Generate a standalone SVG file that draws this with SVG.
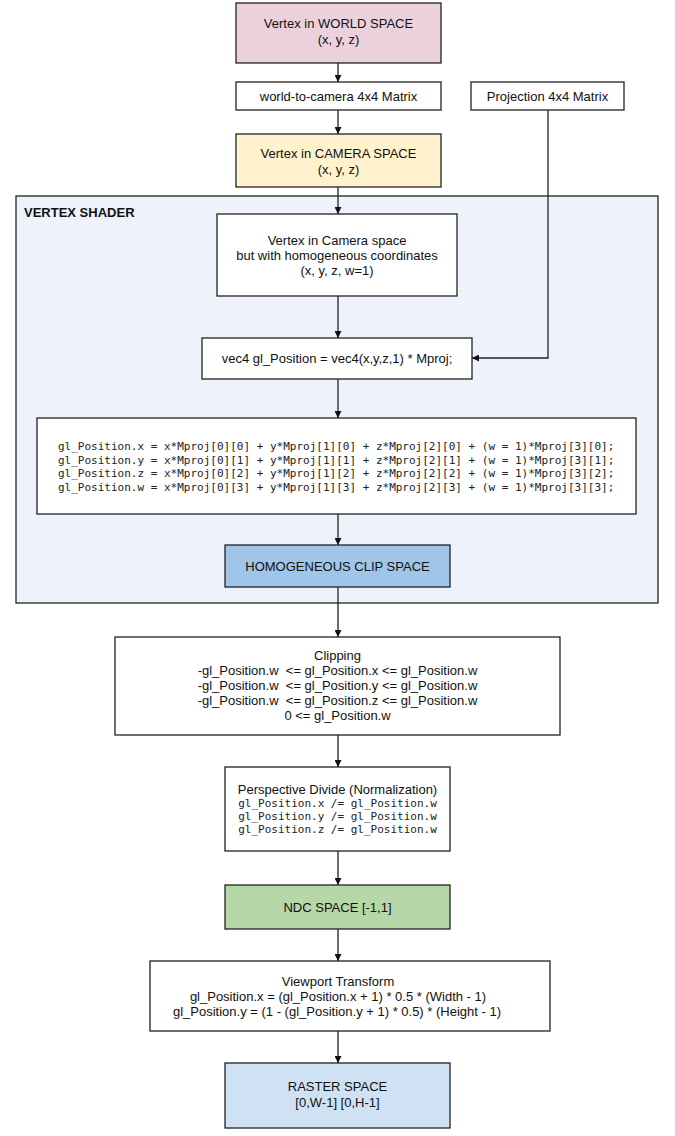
<svg xmlns="http://www.w3.org/2000/svg" width="675" height="1136" viewBox="0 0 675 1136">
  <defs>
    <marker id="arrow" viewBox="0 0 10 10" refX="10" refY="5" markerWidth="7" markerHeight="7" markerUnits="userSpaceOnUse" orient="auto">
      <path d="M0,0 L10,5 L0,10 z" fill="#111"/>
    </marker>
    <style>
      .box { stroke: #222; stroke-width: 1.3; fill: #ffffff; }
      .t { font-family: "Liberation Sans", Arial, sans-serif; font-size: 13px; fill: #111; text-anchor: middle; white-space: pre; }
      .m { font-family: "DejaVu Sans Mono", monospace; font-size: 11px; fill: #222; }
      .edge { stroke: #222; stroke-width: 1.3; fill: none; marker-end: url(#arrow); }
    </style>
  </defs>
  <rect width="675" height="1136" fill="#ffffff"/>

  <!-- shader stage container -->
  <g id="vertex-shader">
    <rect x="16" y="196" width="642" height="407" fill="#edf2fb" stroke="#222" stroke-width="1.3"/>
    <text x="24" y="217" font-family="Liberation Sans, Arial, sans-serif" font-size="13" font-weight="bold" fill="#111">VERTEX SHADER</text>
  </g>

  <g id="world-space">
    <rect class="box" x="236" y="3" width="205" height="60" style="fill:#ead1dc"/>
    <text class="t" x="338.5" y="28">Vertex in WORLD SPACE</text>
    <text class="t" x="338.5" y="44">(x, y, z)</text>
  </g>

  <g id="world-to-camera">
    <rect class="box" x="236" y="82" width="205" height="28"/>
    <text class="t" x="338.5" y="101">world-to-camera 4x4 Matrix</text>
  </g>

  <g id="projection-matrix">
    <rect class="box" x="471" y="82" width="153" height="28"/>
    <text class="t" x="547.5" y="101">Projection 4x4 Matrix</text>
  </g>

  <g id="camera-space">
    <rect class="box" x="236" y="134" width="205" height="53" style="fill:#fff2cc"/>
    <text class="t" x="338.5" y="158">Vertex in CAMERA SPACE</text>
    <text class="t" x="338.5" y="174">(x, y, z)</text>
  </g>

  <g id="homogeneous-coords">
    <rect class="box" x="217" y="214" width="240" height="82"/>
    <text class="t" x="337" y="245">Vertex in Camera space</text>
    <text class="t" x="337" y="260">but with homogeneous coordinates</text>
    <text class="t" x="337" y="275">(x, y, z, w=1)</text>
  </g>

  <g id="gl-position">
    <rect class="box" x="202" y="338" width="270" height="41"/>
    <text class="t" x="337" y="363">vec4 gl_Position = vec4(x,y,z,1) * Mproj;</text>
  </g>

  <g id="matrix-expansion">
    <rect class="box" x="37" y="418" width="599" height="96"/>
    <text class="m" x="58" y="450">gl_Position.x = x*Mproj[0][0] + y*Mproj[1][0] + z*Mproj[2][0] + (w = 1)*Mproj[3][0];</text>
    <text class="m" x="58" y="463.5">gl_Position.y = x*Mproj[0][1] + y*Mproj[1][1] + z*Mproj[2][1] + (w = 1)*Mproj[3][1];</text>
    <text class="m" x="58" y="477">gl_Position.z = x*Mproj[0][2] + y*Mproj[1][2] + z*Mproj[2][2] + (w = 1)*Mproj[3][2];</text>
    <text class="m" x="58" y="490.5">gl_Position.w = x*Mproj[0][3] + y*Mproj[1][3] + z*Mproj[2][3] + (w = 1)*Mproj[3][3];</text>
  </g>

  <g id="clip-space">
    <rect class="box" x="225" y="545" width="225" height="42" style="fill:#9fc5e8"/>
    <text class="t" x="337.5" y="571">HOMOGENEOUS CLIP SPACE</text>
  </g>

  <g id="clipping">
    <rect class="box" x="115" y="637" width="445" height="98"/>
    <text class="t" x="337.5" y="660">Clipping</text>
    <text class="t" x="337.5" y="675" xml:space="preserve">-gl_Position.w  &lt;= gl_Position.x &lt;= gl_Position.w</text>
    <text class="t" x="337.5" y="690" xml:space="preserve">-gl_Position.w  &lt;= gl_Position.y &lt;= gl_Position.w</text>
    <text class="t" x="337.5" y="705" xml:space="preserve">-gl_Position.w  &lt;= gl_Position.z &lt;= gl_Position.w</text>
    <text class="t" x="337.5" y="720">0 &lt;= gl_Position.w</text>
  </g>

  <g id="perspective-divide">
    <rect class="box" x="225" y="767" width="225" height="84"/>
    <text class="t" x="337.5" y="794">Perspective Divide (Normalization)</text>
    <text class="m" x="337.5" y="807" text-anchor="middle">gl_Position.x /= gl_Position.w</text>
    <text class="m" x="337.5" y="820" text-anchor="middle">gl_Position.y /= gl_Position.w</text>
    <text class="m" x="337.5" y="833" text-anchor="middle">gl_Position.z /= gl_Position.w</text>
  </g>

  <g id="ndc-space">
    <rect class="box" x="225" y="885" width="225" height="44" style="fill:#b6d7a8"/>
    <text class="t" x="337.5" y="912">NDC SPACE [-1,1]</text>
  </g>

  <g id="viewport-transform">
    <rect class="box" x="150" y="961" width="400" height="70"/>
    <text class="t" x="338" y="986">Viewport Transform</text>
    <text class="t" x="338" y="1001">gl_Position.x = (gl_Position.x + 1) * 0.5 * (Width - 1)</text>
    <text class="t" x="337" y="1016">gl_Position.y = (1 - (gl_Position.y + 1) * 0.5) * (Height - 1)</text>
  </g>

  <g id="raster-space">
    <rect class="box" x="225" y="1063" width="225" height="65" style="fill:#cfe2f3"/>
    <text class="t" x="337.5" y="1091">RASTER SPACE</text>
    <text class="t" x="337.5" y="1107">[0,W-1] [0,H-1]</text>
  </g>

  <g id="connectors">
    <line class="edge" x1="338" y1="63" x2="338" y2="82"/>
    <line class="edge" x1="338" y1="110" x2="338" y2="134"/>
    <line class="edge" x1="338" y1="187" x2="338" y2="214"/>
    <line class="edge" x1="338" y1="296" x2="338" y2="338"/>
    <polyline class="edge" points="548,110 548,358 472,358"/>
    <line class="edge" x1="338" y1="379" x2="338" y2="418"/>
    <line class="edge" x1="338" y1="514" x2="338" y2="545"/>
    <line class="edge" x1="338" y1="587" x2="338" y2="637"/>
    <line class="edge" x1="338" y1="735" x2="338" y2="767"/>
    <line class="edge" x1="338" y1="851" x2="338" y2="885"/>
    <line class="edge" x1="338" y1="929" x2="338" y2="961"/>
    <line class="edge" x1="338" y1="1031" x2="338" y2="1063"/>
  </g>
</svg>
